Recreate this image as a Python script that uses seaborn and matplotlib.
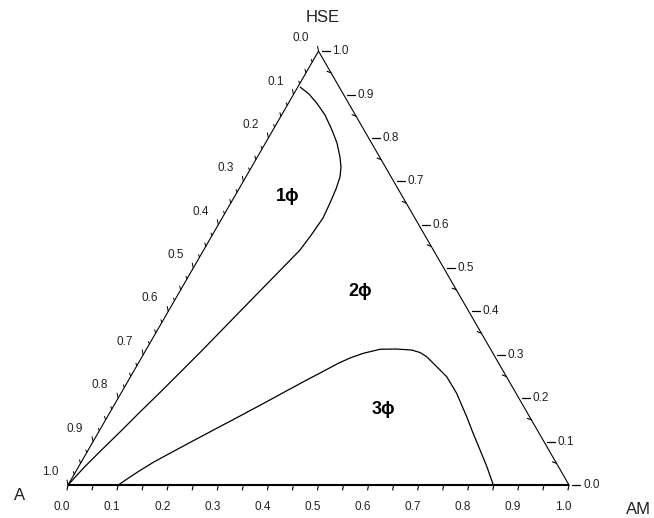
import numpy as np
import pandas as pd
import matplotlib
matplotlib.use("Agg")
import matplotlib.pyplot as plt
import seaborn as sns

# ---- data (ternary compositions: AM fraction, HSE fraction; A = 1 - AM - HSE) ----
one_phase_am = [0.005, 0.0304, 0.0574, 0.0866, 0.1178, 0.1428, 0.1649, 0.1784,
                0.1880, 0.1938, 0.1980, 0.2013, 0.1977, 0.1923, 0.1760, 0.1596,
                0.1433, 0.1271, 0.1108, 0.0940, 0.0770, 0.0596, 0.0427, 0.0253,
                0.0117, 0.0]
one_phase_hse = [0.917, 0.9012, 0.8793, 0.8528, 0.8182, 0.7882, 0.7560, 0.7329,
                 0.7099, 0.6822, 0.6499, 0.6154, 0.5785, 0.5416, 0.4944, 0.4471,
                 0.3999, 0.3526, 0.3054, 0.2593, 0.2132, 0.1682, 0.1222, 0.0772,
                 0.0403, 0.0]
three_phase_am = [0.1004, 0.1146, 0.1270, 0.1438, 0.1624, 0.1945, 0.2315, 0.2638,
                  0.3006, 0.3325, 0.3554, 0.3768, 0.3993, 0.4165, 0.4376, 0.4664,
                  0.4980, 0.5304, 0.5499, 0.5681, 0.5996, 0.6311, 0.6701, 0.7171,
                  0.7485, 0.7821, 0.8156, 0.8489]
three_phase_hse = [0.0, 0.0184, 0.0334, 0.0519, 0.0691, 0.0980, 0.1307, 0.1590,
                   0.1920, 0.2213, 0.2420, 0.2604, 0.2805, 0.2927, 0.3035, 0.3128,
                   0.3134, 0.3111, 0.3054, 0.2957, 0.2727, 0.2496, 0.2113, 0.1574,
                   0.1198, 0.0807, 0.0415, 0.0]

tick_values = [round(0.1 * i, 1) for i in range(11)]
tick_labels = ["%.1f" % v for v in tick_values]
vertex_labels = ["A", "AM", "HSE"]
phase_labels = ["1ϕ", "2ϕ", "3ϕ"]
phase_am = [0.106, 0.359, 0.542]
phase_hse = [0.666, 0.447, 0.173]

S = np.sqrt(3) / 2


def to_xy(am, hse):
    am = np.asarray(am, float)
    hse = np.asarray(hse, float)
    return am + hse / 2, hse * S


sns.set_theme(style="white")
plt.rcParams["font.family"] = ["Liberation Sans", "DejaVu Sans"]

W, H = 654, 518
fig = plt.figure(figsize=(W / 100, H / 100), dpi=100)
ax = fig.add_axes([0, 0, 1, 1])
P = 1 / 501.0  # one pixel in data units
ax.set_xlim(-68 * P, (W - 68) * P)
ax.set_ylim((485 - H) * P, 485 * P)
ax.set_axis_off()

# phase boundary curves via seaborn
x1, y1 = to_xy(one_phase_am, one_phase_hse)
x3, y3 = to_xy(three_phase_am, three_phase_hse)
df = pd.concat([
    pd.DataFrame({"x": x1, "y": y1, "curve": "one"}),
    pd.DataFrame({"x": x3, "y": y3, "curve": "three"}),
])
sns.lineplot(data=df, x="x", y="y", units="curve", estimator=None, sort=False,
             color="black", linewidth=0.9, ax=ax, legend=False)

# triangle edges
ax.plot([0, 1], [0, 0], color="black", lw=1.5, solid_capstyle="butt")
ax.plot([0, 0.5], [0, S], color="black", lw=0.8)
ax.plot([1, 0.5], [0, S], color="black", lw=0.8)

# ticks
fine = [round(0.025 * i, 3) for i in range(41)]
for v in fine:
    major = abs(v * 10 - round(v * 10)) < 1e-6
    half = abs(v * 20 - round(v * 20)) < 1e-6
    # bottom axis (AM)
    bx, by = to_xy(v, 0)
    if half:
        ax.plot([bx, bx - 1 * P], [by, by - 5 * P], color="black", lw=0.8)
    # left axis (A)
    lx, ly = to_xy(0, 1 - v)
    ln = 5 if major else (3.5 if half else 2.5)
    ax.plot([lx, lx - 1 * P], [ly, ly + ln * P], color="black", lw=0.7)
    # right axis (HSE)
    rx, ry = to_xy(1 - v, v)
    if major:
        ax.plot([rx + 3 * P, rx + 11 * P], [ry, ry], color="black", lw=0.9)
    elif half:
        ax.plot([rx, rx - 4 * P], [ry, ry + 1.5 * P], color="black", lw=0.8)

for v, lab in zip(tick_values, tick_labels):
    bx, by = to_xy(v, 0)
    ax.text(bx - 6 * P, by - 22 * P, lab, ha="center", va="center", fontsize=8.5, color="#222222")
    lx, ly = to_xy(0, 1 - v)
    ax.text(lx - 18 * P, ly + 13 * P, lab, ha="center", va="center", fontsize=8.5, color="#222222")
    rx, ry = to_xy(1 - v, v)
    ax.text(rx + 14 * P, ry, lab, ha="left", va="center", fontsize=8.5, color="#222222")

# vertex labels
ax.text(-48 * P, -11 * P, vertex_labels[0], ha="center", va="center", fontsize=12, color="#222222")
ax.text(1 + 69 * P, -25 * P, vertex_labels[1], ha="center", va="center", fontsize=12, color="#222222")
ax.text(0.5 + 4 * P, S + 34 * P, vertex_labels[2], ha="center", va="center", fontsize=12, color="#222222")

# phase labels
for lab, a, h in zip(phase_labels, phase_am, phase_hse):
    px, py = to_xy(a, h)
    ax.text(px, py, lab, ha="center", va="center", fontsize=13, fontweight="bold", color="black")

fig.savefig("out.png", dpi=100)
